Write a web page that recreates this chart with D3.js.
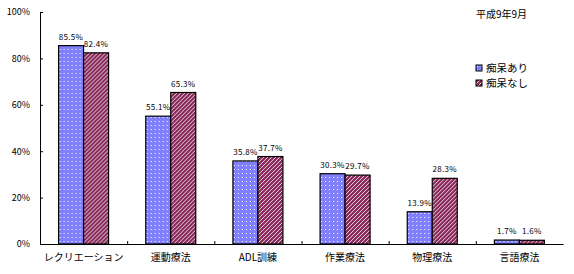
<!DOCTYPE html>
<meta charset="utf-8">
<style>
body { margin: 0; background: #fff; }
text { font-family: "Noto Sans CJK JP", sans-serif; fill: #000; }
</style>
<script src="https://cdn.jsdelivr.net/npm/d3@7"></script>
<body>
<script>

var categories = ["レクリエーション", "運動療法", "ADL訓練", "作業療法", "物理療法", "言語療法"];
var seriesNames = ["痴呆あり", "痴呆なし"];
var withDementia = [85.5, 55.1, 35.8, 30.3, 13.9, 1.7];
var withoutDementia = [82.4, 65.3, 37.7, 29.7, 28.3, 1.6];
var yTicks = [0, 20, 40, 60, 80, 100];

var width = 574, height = 274;
var x0 = 40, x1 = 563, yTop = 12, yBottom = 244;

var svg = d3.select("body").append("svg")
    .attr("width", width)
    .attr("height", height);

var defs = svg.append("defs");
var dots = defs.append("pattern").attr("id", "dots")
    .attr("patternUnits", "userSpaceOnUse").attr("width", 4).attr("height", 4);
dots.append("rect").attr("width", 4).attr("height", 4).attr("fill", "#8080ff");
dots.append("rect").attr("x", 1).attr("y", 1).attr("width", 1).attr("height", 1).attr("fill", "#fff");

var stripes = defs.append("pattern").attr("id", "stripes")
    .attr("patternUnits", "userSpaceOnUse").attr("width", 4).attr("height", 4);
stripes.append("rect").attr("width", 4).attr("height", 4).attr("fill", "#8a2a5c");
stripes.append("path").attr("d", "M-1,1 l2,-2 M0,4 l4,-4 M3,5 l2,-2")
    .attr("stroke", "#fff").attr("stroke-width", 0.8);

var fills = ["url(#dots)", "url(#stripes)"];

var x = d3.scaleBand().domain(categories).range([x0, x1]);
var xInner = d3.scaleBand().domain(seriesNames).range([0, 50]);
var y = d3.scaleLinear().domain([0, 100]).range([yBottom, yTop]);

// axes
svg.append("g")
    .attr("transform", "translate(" + x0 + ",0)")
    .call(d3.axisLeft(y).tickValues(yTicks).tickSize(-3).tickPadding(10)
      .tickFormat(function(d) { return d + "%"; }))
    .call(function(g) {
      g.select(".domain").attr("stroke", "#000");
      g.selectAll("text").style("font-size", "9px").attr("font-family", null);
    });

var xAxis = svg.append("g")
    .attr("transform", "translate(0," + yBottom + ")")
    .call(d3.axisBottom(x).tickSize(0).tickPadding(10).tickSizeOuter(0));
xAxis.select(".domain").attr("stroke", "#000");
xAxis.selectAll("text").style("font-size", "10px").attr("font-family", null);

// inner tick marks between categories
xAxis.selectAll(".sep")
    .data(categories.slice(1))
    .enter().append("line")
    .attr("x1", function(d) { return x(d) + 0.5; })
    .attr("x2", function(d) { return x(d) + 0.5; })
    .attr("y1", 0).attr("y2", -3)
    .attr("stroke", "#000");

var rows = categories.map(function(c, i) {
  return { cat: c, values: [withDementia[i], withoutDementia[i]] };
});

var groups = svg.selectAll(".grp")
    .data(rows)
    .enter().append("g")
    .attr("transform", function(d) { return "translate(" + (x(d.cat) + x.bandwidth() / 2 - 25) + ",0)"; });

groups.selectAll("rect")
    .data(function(d) { return d.values.map(function(v, j) { return { s: seriesNames[j], v: v, j: j }; }); })
    .enter().append("rect")
    .attr("x", function(d) { return xInner(d.s); })
    .attr("y", function(d) { return y(d.v); })
    .attr("width", xInner.bandwidth())
    .attr("height", function(d) { return yBottom - y(d.v); })
    .attr("fill", function(d) { return fills[d.j]; })
    .attr("stroke", "#000")
    .attr("stroke-width", 1.2);

groups.selectAll(".lbl")
    .data(function(d) { return d.values.map(function(v, j) { return { s: seriesNames[j], v: v }; }); })
    .enter().append("text")
    .attr("x", function(d) { return xInner(d.s) + xInner.bandwidth() / 2; })
    .attr("y", function(d) { return y(d.v) - 6; })
    .attr("text-anchor", "middle")
    .style("font-size", "8px")
    .style("letter-spacing", "0.3px")
    .text(function(d) { return d.v.toFixed(1) + "%"; });

// title
svg.append("text")
    .attr("x", 476).attr("y", 18)
    .style("font-size", "10px")
    .text("平成9年9月");

// legend
var legend = svg.selectAll(".leg")
    .data(seriesNames)
    .enter().append("g")
    .attr("transform", function(d, i) { return "translate(476," + (65 + i * 15) + ")"; });
legend.append("rect")
    .attr("width", 6).attr("height", 6)
    .attr("fill", function(d, i) { return fills[i]; })
    .attr("stroke", "#000");
legend.append("text")
    .attr("x", 10).attr("y", 7)
    .style("font-size", "10.5px")
    .text(function(d) { return d; });

</script>
</body>
